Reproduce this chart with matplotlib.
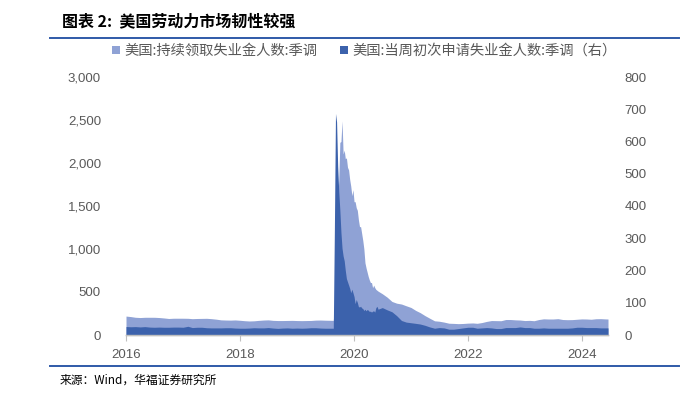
import matplotlib
matplotlib.use("Agg")
import matplotlib.pyplot as plt
from matplotlib.patches import Patch
from matplotlib.lines import Line2D
import pandas as pd
import numpy as np

plt.rcParams['font.family'] = ['Noto Sans CJK SC', 'DejaVu Sans']

# ---------------- data (units: 万人) ----------------
# monthly stretch before the spike
dates_a = pd.date_range('2016-01-01', periods=43, freq='MS')
cont_a = [220, 214, 206, 203, 206,
          206, 206, 203, 198, 192, 195, 195, 195, 194, 190, 192, 193,
          194, 190, 184, 176, 174, 173, 175, 171, 166, 163, 165, 170,
          174, 176, 170, 168, 168, 169, 170, 168, 167, 168, 169, 173,
          174, 172]
init_a = [26.3, 25.5, 26, 25, 26,
          24.5, 24, 24.5, 24, 24, 24.5, 24.5, 24, 27, 23, 24, 24,
          22.5, 22, 22, 22, 22.5, 22.5, 21.5, 21, 21, 21.5, 22.5, 22,
          22, 23, 21.5, 20.5, 21.5, 22, 21, 21.5, 21, 21.5, 22.5, 22.5,
          21.5, 21]
# weekly stretch around the spike
dates_b = pd.date_range('2019-08-22', periods=42, freq='7D')
cont_b = [170, 306, 740, 1190, 1580, 1800, 2240, 2250, 2490, 2105,
          2150, 2050, 2060, 1950, 1920, 1810, 1730, 1620, 1690, 1550,
          1550, 1480, 1450, 1340, 1260, 1260, 1180, 1100, 1000, 840,
          780, 730, 680, 640, 610, 610, 550, 580, 550, 530,
          520, 510]
init_b = [21, 330, 687, 661, 524, 444, 387, 318, 269, 245,
          230, 200, 175, 165, 155, 145, 131, 142, 131, 119,
          97, 110, 101, 88, 87, 89, 84, 82, 76, 80,
          75, 79, 77, 73, 74, 71, 74, 75, 71, 85,
          89, 80]
# monthly stretch after the spike
dates_c = pd.date_range('2020-07-01', periods=48, freq='MS').append(pd.DatetimeIndex(['2024-06-17']))
cont_c = [480, 440, 390, 370, 360, 340, 320, 285, 260, 225, 195, 165,
          160, 150, 137, 135, 132, 134, 138, 140, 136, 145, 158, 168,
          167, 166, 180, 180, 176, 174, 168, 170, 166, 180, 188, 186,
          186, 190, 180, 178, 179, 183, 187, 186, 183, 189, 190, 187,
          186]
init_c = [85, 78, 72, 60, 45, 40, 38, 36, 34, 30, 25, 21,
          23, 22, 18, 18, 20, 22, 24, 24, 21, 22, 23, 22,
          20, 20, 23, 23, 23, 25, 23, 23, 21, 21, 22, 21,
          21, 21, 21, 21, 22, 24, 24, 23, 23, 23, 22, 22,
          22]

dates = dates_a.append(dates_b).append(dates_c)
continuing = np.array(cont_a + cont_b + cont_c, dtype=float)
initial = np.array(init_a + init_b + init_c, dtype=float)

x_tick_years = [2016, 2018, 2020, 2022, 2024]
left_ticks = [0, 500, 1000, 1500, 2000, 2500, 3000]
right_ticks = [0, 100, 200, 300, 400, 500, 600, 700, 800]

name_cont = '美国:持续领取失业金人数:季调'
name_init = '美国:当周初次申请失业金人数:季调（右）'
title = '图表 2:  美国劳动力市场韧性较强'
source = '来源：Wind，华福证券研究所'

c_light = '#8FA2D5'
c_dark = '#3C62AC'
c_text = '#595959'
c_rule = '#2F5AA8'

# ---------------- figure ----------------
W, H = 697, 395
fig = plt.figure(figsize=(W / 100, H / 100), dpi=100)
ax = fig.add_axes([126 / W, 1 - 335 / H, (608 - 126) / W, (335 - 77) / H])
ax2 = ax.twinx()

ax.fill_between(dates, 0, continuing, color=c_light, linewidth=0)
ax2.fill_between(dates, 0, initial, color=c_dark, linewidth=0)

ax.set_xlim(dates[0], dates[-1])
ax.set_ylim(0, 3000)
ax2.set_ylim(0, 800)

ax.set_yticks(left_ticks)
ax.set_yticklabels([f'{v:,}' for v in left_ticks])
ax2.set_yticks(right_ticks)
ax2.set_yticklabels([str(v) for v in right_ticks])

xt = [pd.Timestamp(f'{y}-01-01') for y in x_tick_years]
ax.set_xticks(xt)
ax.set_xticklabels([str(y) for y in x_tick_years])

for a in (ax, ax2):
    for s in ('top', 'left', 'right'):
        a.spines[s].set_visible(False)
    a.spines['bottom'].set_color('#BFBFBF')
    a.spines['bottom'].set_linewidth(1.0)

ax.tick_params(axis='y', length=0, pad=18, labelsize=9.5, labelcolor=c_text)
ax2.tick_params(axis='y', length=0, pad=12, labelsize=9.5, labelcolor=c_text)
ax.tick_params(axis='x', length=4, width=0.8, color='#BFBFBF', pad=6,
               labelsize=9.5, labelcolor=c_text)
for lbl in ax.get_xticklabels() + ax.get_yticklabels() + ax2.get_yticklabels():
    lbl.set_fontfamily(['Liberation Sans', 'DejaVu Sans'])

# title, rules, source
fig.text(62 / W, 1 - 21.5 / H, title, fontsize=11.5, fontweight='bold',
         color='#000000', va='center', ha='left')
fig.add_artist(Line2D([50 / W, 679 / W], [1 - 38.3 / H, 1 - 38.3 / H],
                      color=c_rule, linewidth=1.4, transform=fig.transFigure))
fig.add_artist(Line2D([50 / W, 679 / W], [1 - 366 / H, 1 - 366 / H],
                      color=c_rule, linewidth=1.4, transform=fig.transFigure))
fig.text(60 / W, 1 - 380 / H, source, fontsize=8.5, color='#000000',
         va='center', ha='left')

# legend
handles = [Patch(facecolor=c_light, edgecolor='none', label=name_cont),
           Patch(facecolor=c_dark, edgecolor='none', label=name_init)]
fig.legend(handles=handles, loc='center left', bbox_to_anchor=(112 / W, 1 - 51 / H),
           ncol=2, frameon=False, fontsize=10.3, handlelength=0.55, handleheight=0.55,
           handletextpad=0.3, columnspacing=1.6, labelcolor=c_text,
           borderaxespad=0, borderpad=0)

fig.savefig('out.png', dpi=100)
